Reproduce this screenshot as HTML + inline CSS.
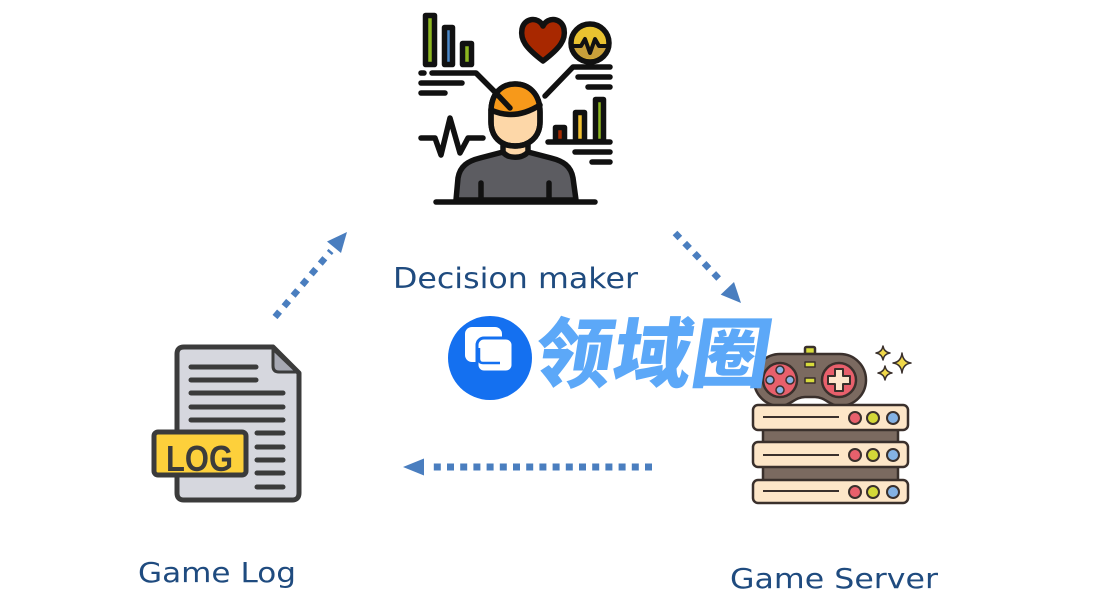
<!DOCTYPE html>
<html><head><meta charset="utf-8"><style>
html,body{margin:0;padding:0;background:#fff;}
body{width:1104px;height:602px;overflow:hidden;}
svg{display:block;}
</style></head><body>
<svg width="1104" height="602" viewBox="0 0 1104 602" xmlns="http://www.w3.org/2000/svg">
<rect width="1104" height="602" fill="#fff"/>

<!-- ===== Decision maker icon ===== -->
<g stroke="#111" stroke-width="5.5" stroke-linecap="round" stroke-linejoin="round">
  <!-- left bars -->
  <rect x="425.5" y="15.5" width="9" height="49" fill="#8db720"/>
  <rect x="444.5" y="27.5" width="8" height="37" fill="#4a88c8"/>
  <rect x="462.5" y="43.5" width="9" height="21" fill="#8db720"/>
  <!-- left lines -->
  <line x1="421" y1="73" x2="424" y2="73"/>
  <polyline points="432,73 476,73 509,106" fill="none"/>
  <line x1="421" y1="83" x2="462" y2="83"/>
  <line x1="421" y1="93" x2="445" y2="93"/>
  <!-- heart -->
  <path d="M543,61 C526,48 520,40 522,29 C524,18 538,16 543,26 C548,16 562,18 564,29 C566,40 560,48 543,61 Z" fill="#a82800"/>
  <!-- gauge circle -->
  <circle cx="590" cy="43" r="19" fill="#e9c230"/>
  <path d="M573.5,46 L581,46 L585,39 L590,53 L595,39 L599,46 L606.5,46 A17,17 0 0 1 573.5,46 Z" fill="#c9a03a" stroke="none"/>
  <polyline points="573,46 581,46 585,39 590,53 595,39 599,46 607,46" fill="none" stroke-width="4"/>
  <!-- right lines -->
  <polyline points="610,67 573,67 545,96" fill="none"/>
  <line x1="578" y1="77" x2="610" y2="77"/>
  <line x1="588" y1="87" x2="610" y2="87"/>
  <!-- pulse -->
  <polyline points="421,138 435,138 441,155 450,118 460,153 468,138 483,138" fill="none"/>
  <!-- right bars -->
  <rect x="555.5" y="127.5" width="9" height="14" fill="#a52a00"/>
  <rect x="575.5" y="112.5" width="9" height="29" fill="#f0c030"/>
  <rect x="595.5" y="99.5" width="8" height="42" fill="#8db720"/>
  <line x1="548" y1="142" x2="610" y2="142"/>
  <line x1="575" y1="152" x2="610" y2="152"/>
  <line x1="592" y1="162" x2="610" y2="162"/>
  <!-- body -->
  <path d="M456,200 L458,178 C460,166 468,161 480,158 L503,152 C508,158 522,158 528,152 L551,158 C563,161 571,166 573,178 L576,200 Z" fill="#5c5c61"/>
  <line x1="481" y1="183" x2="481" y2="200"/>
  <line x1="549" y1="183" x2="549" y2="200"/>
  <!-- neck -->
  <path d="M503,142 L503,152 C508,159 522,159 528,152 L528,142 Z" fill="#fdd7a8"/>
  <!-- head -->
  <path d="M491,112 C491,94 501,84 515,84 C529,84 540,94 540,112 L540,122 C540,137 529,146 515,146 C501,146 491,137 491,122 Z" fill="#fdd7a8"/>
  <path d="M491.5,110 C491.5,93 501,84.5 515,84.5 C529,84.5 539.5,93 539.5,106 Q515,120 491.5,110 Z" fill="#f7991a" stroke="none"/>
  <path d="M491,110 Q515,121 540,105" fill="none"/>
  <path d="M491,112 C491,94 501,84 515,84 C529,84 540,94 540,112 L540,122 C540,137 529,146 515,146 C501,146 491,137 491,122 Z" fill="none"/>
  <line x1="494" y1="91" x2="510" y2="108"/>
  <!-- bottom line -->
  <line x1="436" y1="202" x2="595" y2="202"/>
</g>

<!-- ===== Game log icon ===== -->
<g stroke="#3b3b3b" stroke-width="5" stroke-linecap="round" stroke-linejoin="round">
  <path d="M184,347 L273,347 L299,373 L299,493 Q299,500 292,500 L184,500 Q177,500 177,493 L177,354 Q177,347 184,347 Z" fill="#d6d7de"/>
  <path d="M273,349 L273,366 Q273,372 279,372 L297,372 Z" fill="#a6a8b3" stroke-width="3"/>
  <line x1="191" y1="367" x2="256" y2="367"/>
  <line x1="191" y1="380" x2="256" y2="380"/>
  <line x1="191" y1="393" x2="283" y2="393"/>
  <line x1="191" y1="407" x2="283" y2="407"/>
  <line x1="191" y1="420" x2="283" y2="420"/>
  <line x1="257" y1="433" x2="283" y2="433"/>
  <line x1="257" y1="447" x2="283" y2="447"/>
  <line x1="257" y1="460" x2="283" y2="460"/>
  <line x1="257" y1="473" x2="283" y2="473"/>
  <line x1="257" y1="487" x2="283" y2="487"/>
  <rect x="154" y="432" width="92" height="43" rx="4" fill="#fdd03b"/>
</g>
<text x="166" y="471" font-family="Liberation Sans, sans-serif" font-weight="bold" font-size="36" fill="#3b3b3b" textLength="67" lengthAdjust="spacingAndGlyphs">LOG</text>

<!-- ===== Game server icon ===== -->
<g stroke="#3a302c" stroke-width="2.5" stroke-linejoin="round">
  <rect x="805" y="347" width="10" height="7" rx="1.5" fill="#d8dc3c"/>
  <path d="M780,354 L840,354 A26,26 0 0 1 840,406 C830,406 825,397 815,397 L805,397 C795,397 790,406 780,406 A26,26 0 0 1 780,354 Z" fill="#7b6a60"/>
  <circle cx="780" cy="380" r="17" fill="#e8606c"/>
  <circle cx="839" cy="380" r="17" fill="#e8606c"/>
  <g fill="#8ab4e6" stroke-width="1.5">
    <circle cx="780" cy="370" r="4"/><circle cx="770" cy="380" r="4"/>
    <circle cx="790" cy="380" r="4"/><circle cx="780" cy="390" r="4"/>
  </g>
  <path d="M835,369 L843,369 L843,376 L850,376 L850,384 L843,384 L843,391 L835,391 L835,384 L828,384 L828,376 L835,376 Z" fill="#fde7cc" stroke-width="2"/>
  <rect x="805" y="362" width="10" height="5" fill="#d8dc3c" stroke-width="1.5"/>
  <rect x="805" y="378" width="10" height="5" fill="#d8dc3c" stroke-width="1.5"/>
  <g fill="#f0d84a" stroke-width="1.5">
    <path d="M883,346 Q884,352 890,353 Q884,354 883,360 Q882,354 876,353 Q882,352 883,346 Z"/>
    <path d="M902,353 Q903,362 911,363 Q903,364 902,373 Q901,364 893,363 Q901,362 902,353 Z"/>
    <path d="M885,366 Q886,372 892,373 Q886,374 885,380 Q884,374 878,373 Q884,372 885,366 Z"/>
  </g>
  <rect x="763" y="428" width="135" height="16" fill="#7b6a60"/>
  <rect x="763" y="465" width="135" height="17" fill="#7b6a60"/>
  <rect x="753" y="405" width="155" height="25" rx="5" fill="#fde6c8"/>
  <rect x="753" y="442" width="155" height="25" rx="5" fill="#fde6c8"/>
  <rect x="753" y="480" width="155" height="23" rx="5" fill="#fde6c8"/>
  <g stroke-width="2">
    <line x1="763" y1="417" x2="839" y2="417"/>
    <line x1="763" y1="455" x2="839" y2="455"/>
    <line x1="763" y1="491" x2="839" y2="491"/>
  </g>
  <g stroke-width="2">
    <circle cx="855" cy="418" r="6" fill="#e8606c"/><circle cx="873" cy="418" r="6" fill="#d4d838"/><circle cx="893" cy="418" r="6" fill="#84b2e4"/>
    <circle cx="855" cy="455" r="6" fill="#e8606c"/><circle cx="873" cy="455" r="6" fill="#d4d838"/><circle cx="893" cy="455" r="6" fill="#84b2e4"/>
    <circle cx="855" cy="492" r="6" fill="#e8606c"/><circle cx="873" cy="492" r="6" fill="#d4d838"/><circle cx="893" cy="492" r="6" fill="#84b2e4"/>
  </g>
</g>

<!-- ===== Watermark ===== -->
<circle cx="490" cy="358" r="42" fill="#1470f0"/>
<rect x="465" y="327" width="37" height="35" rx="7" fill="#fff"/>
<rect x="477" y="338" width="36" height="34" rx="7" fill="#fff" stroke="#1470f0" stroke-width="3"/>
<path d="M479,348 L479,359 Q479,363 483,363 L500,363" fill="none" stroke="#1470f0" stroke-width="2.5"/>
<g transform="translate(531,381) skewX(-9)">
  <text x="0" y="0" font-family="Noto Sans CJK SC, WenQuanYi Zen Hei, sans-serif" font-weight="900" font-size="76" fill="#5ca8f8" textLength="236" lengthAdjust="spacingAndGlyphs">领域圈</text>
</g>

<!-- ===== Arrows ===== -->
<g fill="#4a7ebf">
  <line x1="275" y1="317" x2="331" y2="251" stroke="#4a7ebf" stroke-width="6.5" stroke-dasharray="7,7"/>
  <polygon points="347,232 341,253 327,241.5"/>
  <line x1="675" y1="233" x2="723" y2="283" stroke="#4a7ebf" stroke-width="6.5" stroke-dasharray="7,7"/>
  <polygon points="741,303 734,282 720.7,294.6"/>
  <line x1="652" y1="467" x2="428" y2="467" stroke="#4a7ebf" stroke-width="7" stroke-dasharray="7,6.2"/>
  <polygon points="403,467 424,458.5 424,475.5"/>
</g>

<!-- ===== Labels ===== -->
<g font-family="DejaVu Sans, Verdana, sans-serif" fill="#1f4b7f">
  <text x="393" y="288" font-size="28.5" textLength="245" lengthAdjust="spacingAndGlyphs">Decision maker</text>
  <text x="138" y="582" font-size="28" textLength="158" lengthAdjust="spacingAndGlyphs">Game Log</text>
  <text x="730" y="588" font-size="28" textLength="208" lengthAdjust="spacingAndGlyphs">Game Server</text>
</g>
</svg>
</body></html>
